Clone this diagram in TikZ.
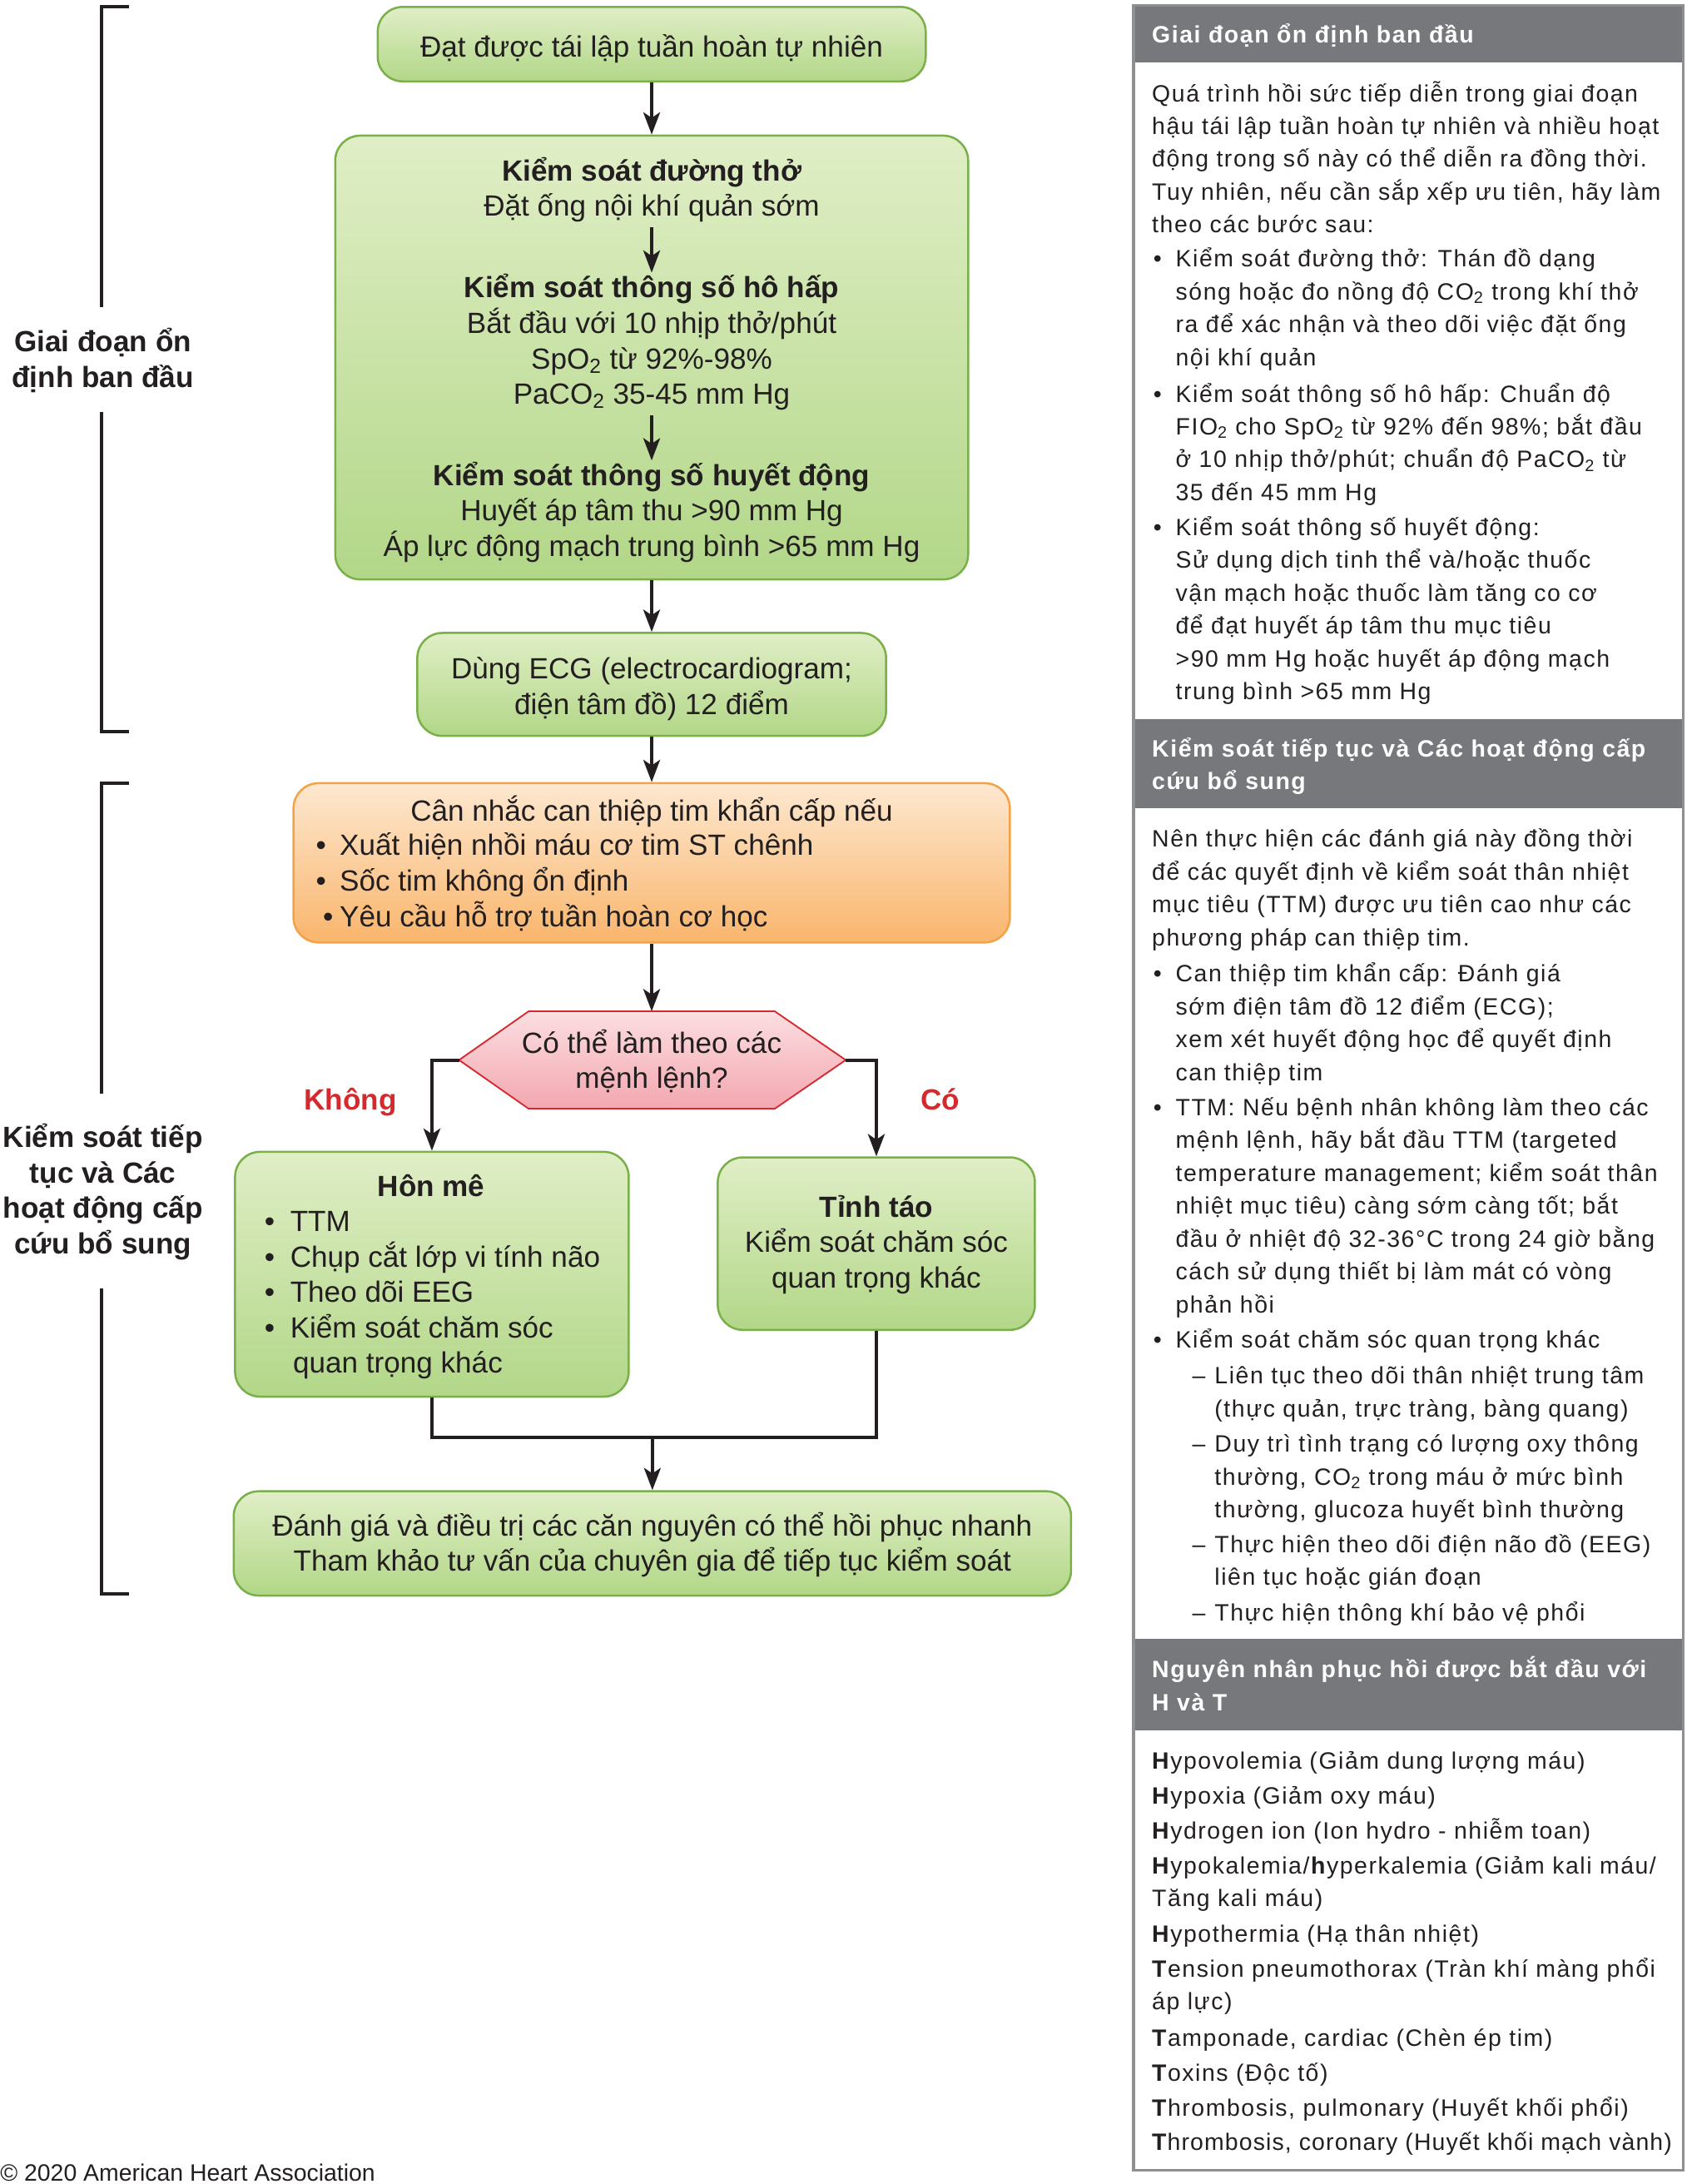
\documentclass[tikz,border=0pt]{standalone}
\usepackage{fontspec}
\setmainfont{Liberation Sans}
\newfontfamily\panelfont[LetterSpace=5.5]{Liberation Sans}
\usetikzlibrary{arrows.meta,calc}
\definecolor{gtop}{HTML}{E0EEC6}
\definecolor{gbot}{HTML}{B2D788}
\definecolor{gedge}{HTML}{7AB04A}
\definecolor{otop}{HTML}{FDE8D0}
\definecolor{obot}{HTML}{F9B56C}
\definecolor{oedge}{HTML}{F2A247}
\definecolor{ptop}{HTML}{FBDEE1}
\definecolor{pbot}{HTML}{F3A7AF}
\definecolor{pedge}{HTML}{D7282F}
\definecolor{hdr}{HTML}{77787B}
\definecolor{pborder}{HTML}{8E8F91}
\definecolor{lblred}{HTML}{D42A2E}
\definecolor{ink}{HTML}{231F20}
\newcommand\ltxt{\fontsize{21}{25.4}\selectfont}
\newcommand\ptxt{\panelfont\fontsize{17}{23.6}\selectfont}
\newcommand\clines[1]{\begin{tabular}[t]{@{}c@{}}#1\end{tabular}}
\newcommand\llines[1]{\begin{tabular}[t]{@{}l@{}}#1\end{tabular}}
\newcommand\bl{\makebox[16pt][l]{•}}
\newcommand\ind{\hspace*{16pt}}
\newcommand\dl{\makebox[16pt][l]{–}}
\tikzset{
  gbox/.style={draw=gedge, line width=1.5pt, rounded corners=18pt, top color=gtop, bottom color=gbot, inner sep=0pt},
  obox/.style={draw=oedge, line width=1.5pt, rounded corners=18pt, top color=otop, bottom color=obot, inner sep=0pt},
  ltext/.style={font=\ltxt, text=ink, inner sep=0pt, anchor=base},
  lbold/.style={font=\ltxt\bfseries, text=ink, inner sep=0pt, anchor=base},
  ptext/.style={font=\ptxt, text=ink, inner sep=0pt, anchor=base west},
  htext/.style={font=\ptxt\bfseries, text=white, inner sep=0pt, anchor=base west},
  hdrbox/.style={fill=hdr, draw=none, inner sep=0pt, minimum width=395pt},
  conn/.style={line width=2.4pt, draw=ink, -{Stealth[length=16pt,width=12pt,inset=4pt]}},
  plainline/.style={line width=2.4pt, draw=ink},
  brack/.style={line width=2.5pt, draw=ink},
}
\begin{document}
\begin{tikzpicture}[x=1pt,y=-1pt]
\useasboundingbox (0,0) rectangle (1216,1570);

% ---------- brackets ----------
\draw[brack] (93,5) -- (73,5) -- (73,221);
\draw[brack] (73,296) -- (73,526) -- (93,526);
\node[lbold] (lab1) at (74,253) {\clines{Giai đoạn ổn\\định ban đầu}};
\draw[brack] (93,563) -- (73,563) -- (73,786);
\draw[brack] (73,926) -- (73,1146) -- (93,1146);
\node[lbold] (lab2) at (74,825) {\clines{Kiểm soát tiếp\\tục và Các\\hoạt động cấp\\cứu bổ sung}};

% ---------- flowchart boxes ----------
\node[gbox, minimum width=394pt, minimum height=53.5pt] (b1) at (468.5,31.75) {};
\node[gbox, minimum width=455pt, minimum height=319pt] (b2) at (468.5,257) {};
\node[gbox, minimum width=337pt, minimum height=74pt] (b3) at (468.5,492) {};
\node[obox, minimum width=515pt, minimum height=114.5pt] (b4) at (468.5,620.25) {};
\path[draw=pedge, line width=1.1pt, top color=ptop, bottom color=pbot]
  (330,762) -- (380,727) -- (557,727) -- (608,762) -- (557,797) -- (380,797) -- cycle;
\coordinate (hexL) at (330,762);
\coordinate (hexR) at (608,762);
\coordinate (hexT) at (468.5,727);
\node[gbox, minimum width=283pt, minimum height=176pt] (b5) at (310.5,916) {};
\node[gbox, minimum width=228pt, minimum height=124pt] (b6) at (630,894) {};
\node[gbox, minimum width=602pt, minimum height=75pt] (b7) at (469,1109.5) {};

% ---------- texts ----------
\node[ltext] (t1) at (468.5,41) {Đạt được tái lập tuần hoàn tự nhiên};
\node[ltext] (g1) at (468.5,130) {\clines{\textbf{Kiểm soát đường thở}\\Đặt ống nội khí quản sớm}};
\node[ltext] (g2) at (468.5,214) {\clines{\textbf{Kiểm soát thông số hô hấp}\\Bắt đầu với 10 nhịp thở/phút\\SpO\textsubscript{2} từ 92\%-98\%\\PaCO\textsubscript{2} 35-45 mm Hg}};
\node[ltext] (g3) at (468.5,349) {\clines{\textbf{Kiểm soát thông số huyết động}\\Huyết áp tâm thu >90 mm Hg\\Áp lực động mạch trung bình >65 mm Hg}};
\node[ltext] (t3) at (468.5,488) {\clines{Dùng ECG (electrocardiogram;\\điện tâm đồ) 12 điểm}};
\node[ltext] (t4) at (468.5,590) {Cân nhắc can thiệp tim khẩn cấp nếu};
\node[ltext, anchor=base west] (t4b) at (227,615) {\llines{\makebox[17pt][l]{•}Xuất hiện nhồi máu cơ tim ST chênh\\\makebox[17pt][l]{•}Sốc tim không ổn định\\\makebox[17pt][l]{\hspace*{5pt}•}Yêu cầu hỗ trợ tuần hoàn cơ học}};
\node[ltext] (th) at (468.5,757) {\clines{Có thể làm theo các\\mệnh lệnh?}};
\node[lbold, text=lblred] (kh) at (252,798) {Không};
\node[lbold, text=lblred] (co) at (676,798) {Có};
\node[lbold] (t5) at (310,860) {Hôn mê};
\node[ltext, anchor=base west] (t5b) at (190,885) {\llines{\makebox[18.5pt][l]{•}TTM\\\makebox[18.5pt][l]{•}Chụp cắt lớp vi tính não\\\makebox[18.5pt][l]{•}Theo dõi EEG\\\makebox[18.5pt][l]{•}Kiểm soát chăm sóc\\\hspace*{20.5pt}quan trọng khác}};
\node[ltext] (t6) at (630,875) {\clines{\textbf{Tỉnh táo}\\Kiểm soát chăm sóc\\quan trọng khác}};
\node[ltext] (t7) at (469,1104) {\clines{Đánh giá và điều trị các căn nguyên có thể hồi phục nhanh\\Tham khảo tư vấn của chuyên gia để tiếp tục kiểm soát}};

% ---------- connectors ----------
\draw[conn] (b1) -- (b2);
\draw[conn] (g1) -- (g2);
\draw[conn] (g2) -- (g3);
\draw[conn] (b2) -- (b3);
\draw[conn] (b3) -- (b4);
\draw[conn] (b4.south) -- (hexT);
\draw[conn] (hexL) -| (b5.north);
\draw[conn] (hexR) -| (b6.north);
\coordinate (join) at (469,1033);
\draw[plainline] (b5.south) |- (join) -| (b6.south);
\draw[conn] (join) -- (b7);

% ---------- right panel ----------
\node[hdrbox, minimum height=41pt] (h1) at (1012.5,24.5) {};
\node[hdrbox, minimum height=64pt] (h2) at (1012.5,549) {};
\node[hdrbox, minimum height=66pt] (h3) at (1012.5,1211) {};
\node[htext] (h1t) at (828,31) {Giai đoạn ổn định ban đầu};
\node[htext] (h2t) at (828,544) {\llines{Kiểm soát tiếp tục và Các hoạt động cấp\\cứu bổ sung}};
\node[htext] (h3t) at (828,1206) {\llines{Nguyên nhân phục hồi được bắt đầu với\\H và T}};

\node[ptext] (p1a) at (828,73) {\llines{Quá trình hồi sức tiếp diễn trong giai đoạn\\hậu tái lập tuần hoàn tự nhiên và nhiều hoạt\\động trong số này có thể diễn ra đồng thời.\\Tuy nhiên, nếu cần sắp xếp ưu tiên, hãy làm\\theo các bước sau:}};
\node[ptext] (p1b) at (829,192) {\llines{\bl Kiểm soát đường thở: Thán đồ dạng\\\ind sóng hoặc đo nồng độ CO\textsubscript{2} trong khí thở\\\ind ra để xác nhận và theo dõi việc đặt ống\\\ind nội khí quản}};
\node[ptext] (p1c) at (829,289) {\llines{\bl Kiểm soát thông số hô hấp: Chuẩn độ\\\ind FIO\textsubscript{2} cho SpO\textsubscript{2} từ 92\% đến 98\%; bắt đầu\\\ind ở 10 nhịp thở/phút; chuẩn độ PaCO\textsubscript{2} từ\\\ind 35 đến 45 mm Hg}};
\node[ptext] (p1d) at (829,385) {\llines{\bl Kiểm soát thông số huyết động:\\\ind Sử dụng dịch tinh thể và/hoặc thuốc\\\ind vận mạch hoặc thuốc làm tăng co cơ\\\ind để đạt huyết áp tâm thu mục tiêu\\\ind >90 mm Hg hoặc huyết áp động mạch\\\ind trung bình >65 mm Hg}};

\node[ptext] (p2a) at (828,609) {\llines{Nên thực hiện các đánh giá này đồng thời\\để các quyết định về kiểm soát thân nhiệt\\mục tiêu (TTM) được ưu tiên cao như các\\phương pháp can thiệp tim.}};
\node[ptext] (p2b) at (829,706) {\llines{\bl Can thiệp tim khẩn cấp: Đánh giá\\\ind sớm điện tâm đồ 12 điểm (ECG);\\\ind xem xét huyết động học để quyết định\\\ind can thiệp tim}};
\node[ptext] (p2c) at (829,802) {\llines{\bl TTM: Nếu bệnh nhân không làm theo các\\\ind mệnh lệnh, hãy bắt đầu TTM (targeted\\\ind temperature management; kiểm soát thân\\\ind nhiệt mục tiêu) càng sớm càng tốt; bắt\\\ind đầu ở nhiệt độ 32-36°C trong 24 giờ bằng\\\ind cách sử dụng thiết bị làm mát có vòng\\\ind phản hồi}};
\node[ptext] (p2d) at (829,969) {\bl Kiểm soát chăm sóc quan trọng khác};
\node[ptext] (p2e) at (857,995) {\llines{\dl Liên tục theo dõi thân nhiệt trung tâm\\\ind (thực quản, trực tràng, bàng quang)}};
\node[ptext] (p2f) at (857,1044) {\llines{\dl Duy trì tình trạng có lượng oxy thông\\\ind thường, CO\textsubscript{2} trong máu ở mức bình\\\ind thường, glucoza huyết bình thường}};
\node[ptext] (p2g) at (857,1116) {\llines{\dl Thực hiện theo dõi điện não đồ (EEG)\\\ind liên tục hoặc gián đoạn}};
\node[ptext] (p2h) at (857,1165) {\dl Thực hiện thông khí bảo vệ phổi};

\node[ptext] (p3a) at (828,1272) {\textbf{H}ypovolemia (Giảm dung lượng máu)};
\node[ptext] (p3b) at (828,1297) {\textbf{H}ypoxia (Giảm oxy máu)};
\node[ptext] (p3c) at (828,1322) {\textbf{H}ydrogen ion (Ion hydro - nhiễm toan)};
\node[ptext] (p3d) at (828,1347) {\llines{\textbf{H}ypokalemia/\textbf{h}yperkalemia (Giảm kali máu/\\Tăng kali máu)}};
\node[ptext] (p3e) at (828,1396) {\textbf{H}ypothermia (Hạ thân nhiệt)};
\node[ptext] (p3f) at (828,1421) {\llines{\textbf{T}ension pneumothorax (Tràn khí màng phổi\\áp lực)}};
\node[ptext] (p3g) at (828,1471) {\textbf{T}amponade, cardiac (Chèn ép tim)};
\node[ptext] (p3h) at (828,1496) {\textbf{T}oxins (Độc tố)};
\node[ptext] (p3i) at (828,1521) {\textbf{T}hrombosis, pulmonary (Huyết khối phổi)};
\node[ptext] (p3j) at (828,1546) {\addfontfeature{LetterSpace=4}\textbf{T}hrombosis, coronary (Huyết khối mạch vành)};

\node[draw=pborder, line width=2pt, minimum width=395pt, minimum height=1556pt, inner sep=0pt] (panel) at (1012.5,782) {};

\node[font=\fontsize{17}{20}\selectfont, text=ink, inner sep=0pt, anchor=base west] (copy) at (0,1568) {© 2020 American Heart Association};
\end{tikzpicture}
\end{document}
